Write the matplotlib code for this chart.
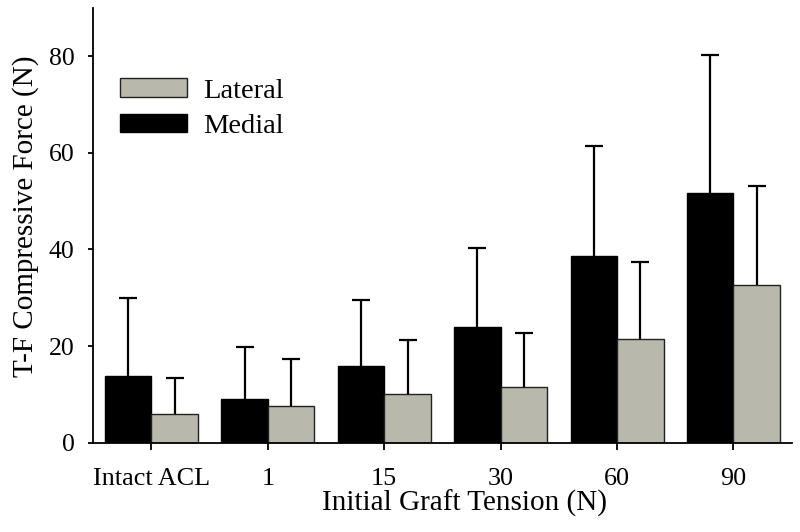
import numpy as np
import matplotlib.pyplot as plt

groups = ['Intact ACL', '1', '15', '30', '60', '90']
medial = [13.7, 9.0, 15.9, 23.9, 38.7, 51.7]
medial_sd = [16.2, 10.9, 13.6, 16.5, 22.7, 28.6]
lateral = [5.9, 7.6, 10.1, 11.5, 21.5, 32.7]
lateral_sd = [7.5, 9.7, 11.2, 11.2, 15.9, 20.4]

plt.rcParams['font.family'] = ['Liberation Serif', 'DejaVu Serif']

fig = plt.figure(figsize=(8, 5.32), dpi=100)
ax = fig.add_axes([0.1166, 0.168, 0.873, 0.817])

x = np.arange(len(groups))
w = 0.4
gray = '#b9b8ad'
zeros = np.zeros(len(groups))

ax.bar(x - w/2, medial, w, color='black', edgecolor='black', linewidth=1, label='Medial', zorder=2)
ax.bar(x + w/2, lateral, w, color=gray, edgecolor='#222222', linewidth=1, label='Lateral', zorder=2)

# upper error bars only
for pos, vals, sd in [(x - w/2, medial, medial_sd), (x + w/2, lateral, lateral_sd)]:
    eb = ax.errorbar(pos, vals, yerr=[zeros, sd], fmt='none', ecolor='black',
                     elinewidth=1.6, capsize=6.5, capthick=1.6, zorder=1)
    eb[1][0].set_visible(False)

ax.set_xlim(-0.5, 5.5)
ax.set_ylim(0, 90)
ax.set_yticks([0, 20, 40, 60, 80])
ax.set_xticks(x)
ax.set_xticklabels(groups)
ax.spines['top'].set_visible(False)
ax.spines['right'].set_visible(False)
for s in ['left', 'bottom']:
    ax.spines[s].set_linewidth(1.3)
ax.tick_params(axis='y', length=3.5, width=1.3, pad=10, labelsize=18.5)
ax.tick_params(axis='x', length=5, width=1.3, pad=13, labelsize=18.8)
ax.set_xlabel('Initial Graft Tension (N)', fontsize=21, labelpad=0)
ax.set_ylabel('T-F Compressive Force (N)', fontsize=21, labelpad=7)
ax.xaxis.label.set_x(0.531)
ax.yaxis.label.set_y(0.52)

h, l = ax.get_legend_handles_labels()
ax.legend(h[::-1], l[::-1], loc='upper left', bbox_to_anchor=(0.038, 0.8385), frameon=False,
          fontsize=20.5, handlelength=2.35, handleheight=0.63, borderpad=0, borderaxespad=0,
          labelspacing=0.36, handletextpad=0.56)

fig.savefig('out.png', dpi=100)
